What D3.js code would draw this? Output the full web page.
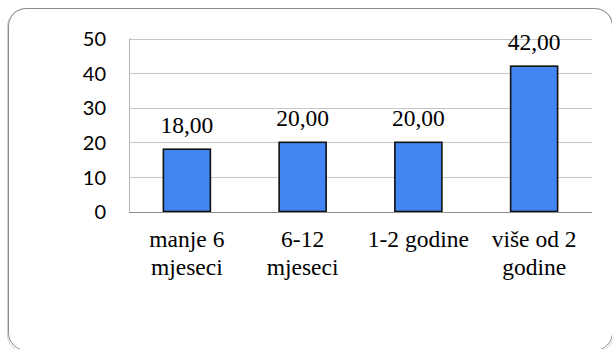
<!DOCTYPE html>
<html>
<head>
<meta charset="utf-8">
<script src="https://cdn.jsdelivr.net/npm/d3@7"></script>
<style>
  html, body { margin: 0; padding: 0; background: #fff; }
  svg { display: block; }
</style>
</head>
<body>
<script>
const categories = [["manje 6", "mjeseci"], ["6-12", "mjeseci"], ["1-2 godine"], ["više od 2", "godine"]];
const values = [18.00, 20.00, 20.00, 42.00];
const yTicks = [0, 10, 20, 30, 40, 50];

(function () {
const SERIF = '"Liberation Serif", "Times New Roman"';
const SANS = '"Lato", "Open Sans"';
const W = 612, H = 349;
const svg = d3.select("body").append("svg").attr("width", W).attr("height", H);

// chart frame
svg.append("rect")
  .attr("x", 7.5).attr("y", 8.5).attr("width", 606).attr("height", 344)
  .attr("rx", 18).attr("ry", 18)
  .attr("fill", "none").attr("stroke", "#d0d0d0").attr("stroke-width", 1);
svg.append("rect")
  .attr("x", 8.5).attr("y", 8.5).attr("width", 604).attr("height", 342)
  .attr("rx", 18).attr("ry", 18)
  .attr("fill", "#fff").attr("stroke", "#8a8a8a").attr("stroke-width", 1);

const pLeft = 129, pRight = 592, pTop = 38.5, pBottom = 211.5;

const x = d3.scaleBand()
  .domain(d3.range(categories.length))
  .range([pLeft, pRight])
  .paddingInner(0.594).paddingOuter(0.297);

const y = d3.scaleLinear().domain([0, 50]).range([pBottom, pTop]);

// gridlines
svg.append("g").selectAll("line").data(yTicks.filter(d => d > 0)).join("line")
  .attr("x1", pLeft).attr("x2", pRight)
  .attr("y1", d => Math.round(y(d)) + 0.5).attr("y2", d => Math.round(y(d)) + 0.5)
  .attr("stroke", "#c6c6c6").attr("stroke-width", 1);

// left axis line
svg.append("line")
  .attr("x1", pLeft + 0.5).attr("x2", pLeft + 0.5)
  .attr("y1", y(50)).attr("y2", y(0))
  .attr("stroke", "#b4b4b4");

// y tick labels
const yAxis = d3.axisLeft(y).tickValues(yTicks).tickSize(0).tickPadding(23).tickFormat(d3.format("d"));
const gy = svg.append("g").attr("transform", `translate(${pLeft},0)`).call(yAxis);
gy.select(".domain").remove();
gy.selectAll("text")
  .style("font-family", SANS)
  .style("font-size", "20px").attr("fill", "#000").attr("dy", "0.36em");

// bars
svg.append("g").selectAll("rect").data(values).join("rect")
  .attr("x", (d, i) => x(i))
  .attr("y", d => y(d))
  .attr("width", x.bandwidth())
  .attr("height", d => y(0) - y(d))
  .attr("fill", "#4385F2")
  .attr("stroke", "#111").attr("stroke-width", 1.6);

// baseline
svg.append("line")
  .attr("x1", pLeft).attr("x2", pRight)
  .attr("y1", Math.round(y(0)) + 0.5).attr("y2", Math.round(y(0)) + 0.5)
  .attr("stroke", "#8c8c8c").attr("stroke-width", 1.2);

// data labels
svg.append("g").selectAll("text").data(values).join("text")
  .attr("x", (d, i) => x(i) + x.bandwidth() / 2)
  .attr("y", d => y(d) - 16.5)
  .attr("text-anchor", "middle")
  .style("font-family", SERIF)
  .style("font-size", "23.5px").attr("fill", "#000")
  .text(d => d.toFixed(2).replace(".", ","));

// category labels
const cat = svg.append("g").selectAll("text").data(categories).join("text")
  .attr("x", (d, i) => x(i) + x.bandwidth() / 2)
  .attr("y", 247)
  .attr("text-anchor", "middle")
  .style("font-family", SERIF)
  .style("font-size", "23.5px").attr("fill", "#000");
cat.selectAll("tspan").data((d, i) => d.map(t => ({t, i}))).join("tspan")
  .attr("x", d => x(d.i) + x.bandwidth() / 2)
  .attr("dy", (d, j) => j === 0 ? 0 : 27.5)
  .text(d => d.t);
})();
</script>
</body>
</html>
